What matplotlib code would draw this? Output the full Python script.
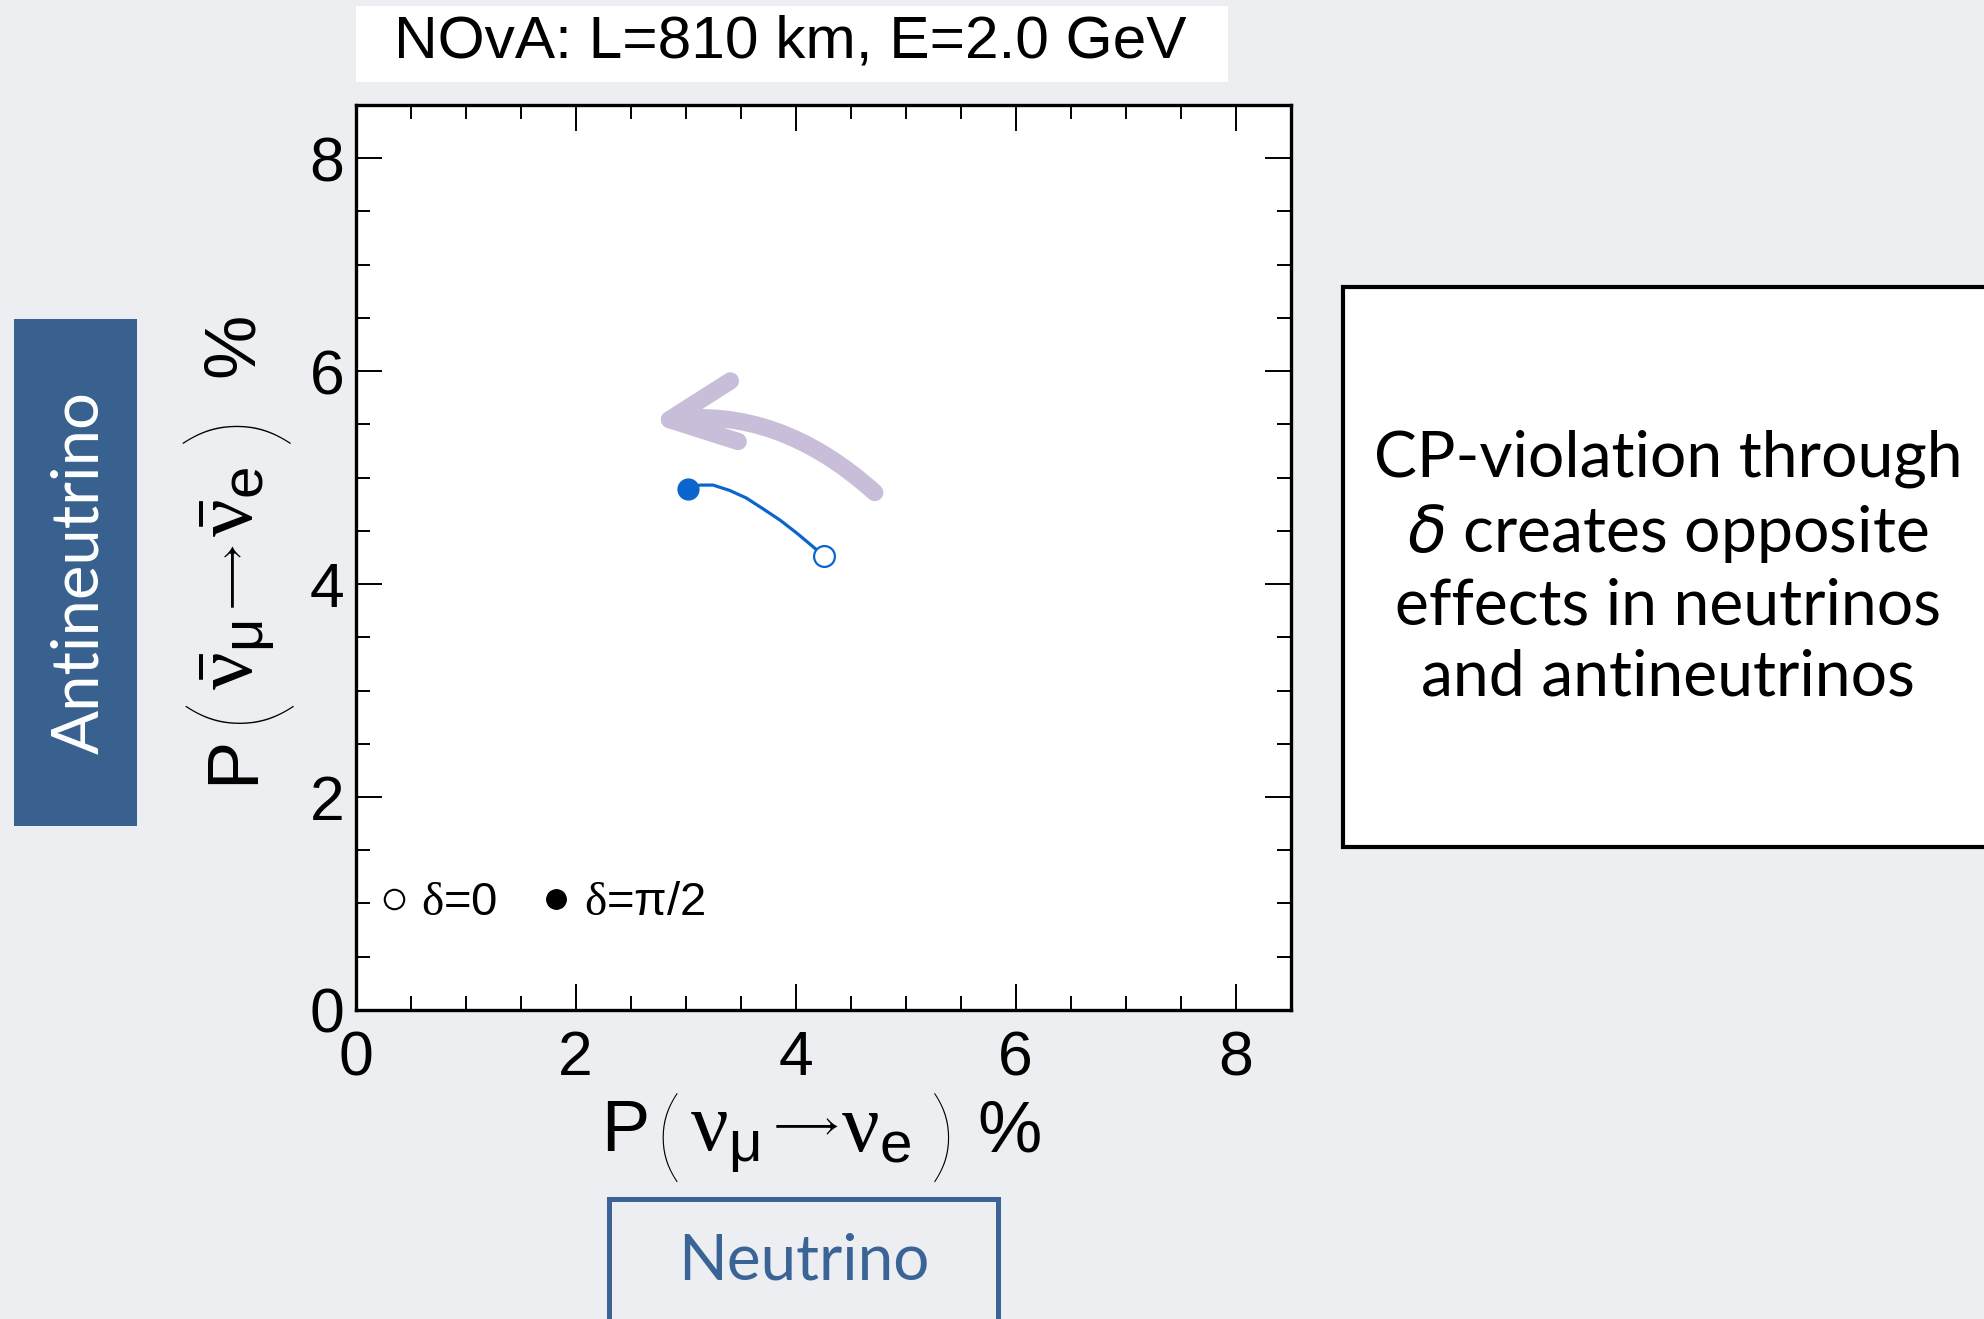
import matplotlib.pyplot as plt
from matplotlib.lines import Line2D
from matplotlib.patches import Rectangle, FancyArrowPatch
from matplotlib.ticker import MultipleLocator

plt.rcParams['font.family'] = ['Liberation Sans', 'DejaVu Sans']
plt.rcParams['mathtext.fontset'] = 'custom'
plt.rcParams['mathtext.rm'] = 'Liberation Serif'
plt.rcParams['mathtext.sf'] = 'Liberation Sans'
plt.rcParams['mathtext.it'] = 'Liberation Serif:italic'

# P(nu_mu -> nu_e) and P(anti) in %, scanned from delta=pi/2 to delta=0
p_nu = [3.02, 3.13, 3.25, 3.40, 3.55, 3.70, 3.86, 4.01, 4.16, 4.26]
p_nubar = [4.89, 4.93, 4.93, 4.88, 4.81, 4.71, 4.60, 4.48, 4.35, 4.26]
ticks = [0, 2, 4, 6, 8]
legend_labels = [r'$\mathrm{\delta}$=0', r'$\mathrm{\delta}$=π/2']
arrow_tail = (4.72, 4.86)
arrow_head = (2.67, 5.52)

title = 'NOvA: L=810 km, E=2.0 GeV'
note = 'CP-violation through\n$\\delta$ creates opposite\neffects in neutrinos\nand antineutrinos'

W, H = 1984, 1319
bg = '#ECEEF1'
blue = '#0A66CC'
box_blue = '#38618F'

fig = plt.figure(figsize=(W / 100, H / 100), dpi=100, facecolor=bg)
ax = fig.add_axes([0.1792, 0.2343, 0.4713, 0.6861])
ax.set_facecolor('white')

ax.plot(p_nu, p_nubar, color=blue, lw=2.3, zorder=3)
ax.plot(p_nu[0], p_nubar[0], 'o', ms=15, color=blue, zorder=4)
ax.plot(p_nu[-1], p_nubar[-1], 'o', ms=15, mfc='white', mec=blue, mew=1.6, zorder=4)

arr = FancyArrowPatch(arrow_tail, arrow_head, connectionstyle='arc3,rad=0.23',
                      arrowstyle='->,head_length=0.47,head_width=0.22',
                      mutation_scale=100, lw=12.5, color='#C9BEDA',
                      capstyle='round', joinstyle='round', shrinkA=0, shrinkB=0, zorder=2)
ax.add_patch(arr)

ax.set_xlim(0, 8.5)
ax.set_ylim(0, 8.5)
ax.set_xticks(ticks)
ax.set_yticks(ticks)
ax.xaxis.set_minor_locator(MultipleLocator(0.5))
ax.yaxis.set_minor_locator(MultipleLocator(0.5))
ax.tick_params(which='both', direction='in', top=True, right=True, width=1.4, color='black')
ax.tick_params(which='major', length=19, labelsize=45)
ax.tick_params(which='minor', length=10)
ax.tick_params(axis='x', pad=14)
ax.tick_params(axis='y', pad=8)
for s in ax.spines.values():
    s.set_linewidth(2.4)

handles = [Line2D([], [], marker='o', ls='none', ms=14, mfc='white', mec='black', mew=1.5),
           Line2D([], [], marker='o', ls='none', ms=14, mfc='black', mec='black')]
ax.legend(handles, legend_labels, loc='center left', bbox_to_anchor=(0.028, 0.118),
          ncol=2, frameon=False, fontsize=34, handlelength=0.5, handletextpad=0.33,
          columnspacing=1.0, borderpad=0, borderaxespad=0)

# ROOT style axis titles: (text, offset along, offset above baseline, size, kind)
kinds = {'text': dict(va='baseline'),
         'paren': dict(va='center', family='Lato', weight='ultralight'),
         'arrow': dict(va='baseline')}
xlabel_parts = [('P', 0, 0, 52, 'text'),
                ('(', 54, 9, 74, 'paren'),
                (r'$\mathrm{\nu}_{\mathsf{\mu}}$', 89, 0, 60, 'text'),
                (r'$\longrightarrow$', 166, 16, 30, 'arrow'),
                (r'$\mathrm{\nu}_{\mathsf{e}}$', 240, 0, 60, 'text'),
                (')', 329, 9, 74, 'paren'),
                ('%', 376, 0, 52, 'text')]
ylabel_parts = [('P', 0, 0, 52, 'text'),
                ('(', 61, 14, 90, 'paren'),
                (r'$\bar{\mathrm{\nu}}_{\mathsf{\mu}}$', 94, 0, 60, 'text'),
                (r'$\longrightarrow$', 168, 11, 30, 'arrow'),
                (r'$\bar{\mathrm{\nu}}_{\mathsf{e}}$', 247, 0, 60, 'text'),
                (')', 341, 14, 90, 'paren'),
                ('%', 407, 0, 52, 'text')]


def draw_label(parts, start, base, vertical):
    for s, along, perp, size, kind in parts:
        kw = dict(fontsize=size, ha='left', **kinds[kind])
        if vertical:
            fig.text((base - perp) / W, 1 - (start - along) / H, s, rotation=90,
                     rotation_mode='anchor', **kw)
        else:
            fig.text((start + along) / W, 1 - (base - perp) / H, s, **kw)


draw_label(xlabel_parts, 601, 1151, False)
draw_label(ylabel_parts, 784, 253, True)

# title box
fig.add_artist(Rectangle((0.1792, 0.9378), 0.44, 0.0576, transform=fig.transFigure,
                         facecolor='white', edgecolor='none'))
fig.text(0.3982, 0.9683, title, ha='center', va='center', fontsize=43.5)

# side labels
fig.add_artist(Rectangle((0.0071, 0.3738), 0.062, 0.3844, transform=fig.transFigure,
                         facecolor=box_blue, edgecolor='none'))
fig.text(0.040, 0.566, 'Antineutrino', rotation=90, ha='center', va='center',
         color='white', fontsize=47, family='Lato')

fig.add_artist(Rectangle((0.3068, -0.05), 0.1964, 0.1406, transform=fig.transFigure,
                         facecolor='none', edgecolor='#3A6496', lw=3.6))
fig.text(0.405, 0.0436, 'Neutrino', ha='center', va='center', color='#3A6496',
         fontsize=46, family='Lato')

# explanation box
fig.add_artist(Rectangle((0.6767, 0.3582), 0.4, 0.4242, transform=fig.transFigure,
                         facecolor='white', edgecolor='black', lw=3))
fig.text(0.8407, 0.5693, note, ha='center', va='center', fontsize=46.3,
         family='Lato', linespacing=1.27, math_fontfamily='dejavusans')

fig.savefig('out.png', dpi=100, facecolor=bg)
